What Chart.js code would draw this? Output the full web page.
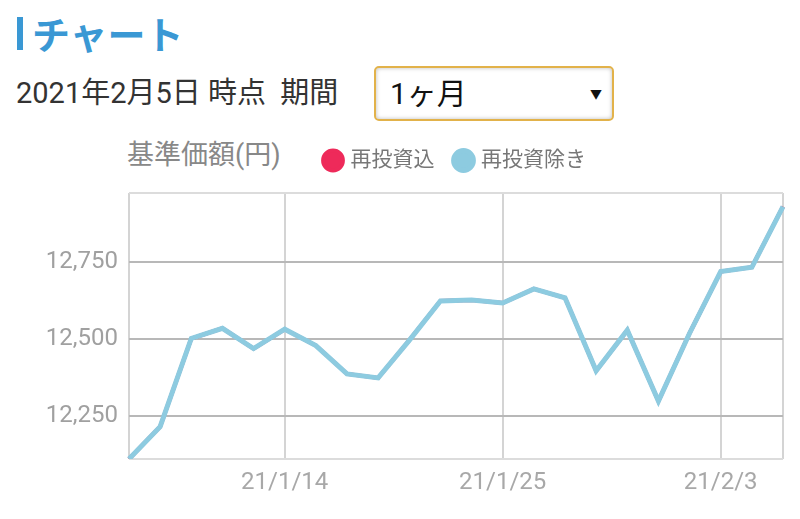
<!DOCTYPE html>
<html lang="ja">
<head>
<meta charset="utf-8">
<script src="https://cdn.jsdelivr.net/npm/chart.js@4"></script>
<style>
  html, body { margin: 0; padding: 0; background: #fff; }
  body { width: 800px; height: 519px; position: relative; overflow: hidden;
         font-family: Roboto, 'Noto Sans CJK JP', sans-serif; }
  .title { position: absolute; left: 17px; top: 11px; height: 44px; padding-left: 15px;
           font-size: 38px; font-weight: bold; color: #3a98d4; line-height: 44px;
           font-family: 'Noto Sans CJK JP', sans-serif; }
  .title::before { content: ''; position: absolute; left: 0; top: 6px; width: 6px; height: 33px; background: #3a98d4; }
  .asof { position: absolute; left: 16px; top: 73px; font-size: 29px; color: #333; line-height: 40px; }
  .select { position: absolute; left: 374px; top: 66px; width: 236px; height: 51px;
            border: 2px solid #e2b24a; border-radius: 5px; box-shadow: inset 0 0 4px #bbb; }
  .select span { position: absolute; left: 14px; top: 6px; font-size: 30px; color: #111; line-height: 40px; }
  .select i { position: absolute; right: 10px; top: 17px; font-style: normal; font-size: 12px; color: #111; }
  .unit { position: absolute; left: 127px; top: 136px; font-size: 27px; color: #888; line-height: 38px; }
  #wrap { position: absolute; left: 0; top: 128px; width: 800px; height: 391px; }
</style>
</head>
<body>
<div class="title">チャート</div>
<div class="asof">2021年2月5日 時点&nbsp;&nbsp;期間</div>
<div class="select"><span>1ヶ月</span><i>▼</i></div>
<div class="unit">基準価額(円)</div>
<div id="wrap"><canvas id="chart"></canvas></div>
<script>
// 基準日 (営業日)
const labels = ['21/1/6', '21/1/7', '21/1/8', '21/1/12', '21/1/13', '21/1/14', '21/1/15',
    '21/1/18', '21/1/19', '21/1/20', '21/1/21', '21/1/22', '21/1/25', '21/1/26', '21/1/27',
    '21/1/28', '21/1/29', '21/2/1', '21/2/2', '21/2/3', '21/2/4', '21/2/5'];

// 再投資込
const reinvested = [12112, 12217, 12503, 12536, 12470, 12533, 12480, 12388, 12375, 12497, 12625,
    12628, 12618, 12664, 12635, 12398, 12530, 12300, 12520, 12720, 12734, 12931];

// 再投資除き
const excluded = [12112, 12217, 12503, 12536, 12470, 12533, 12480, 12388, 12375, 12497, 12625,
    12628, 12618, 12664, 12635, 12398, 12530, 12300, 12520, 12720, 12734, 12931];

const shownLabels = ['21/1/14', '21/1/25', '21/2/3'];
const yMin = 12112;
const yMax = 12975;
const yStep = 250;

const fontFamily = "Roboto, 'Noto Sans CJK JP', sans-serif";

/* 凡例の下に余白を足す */
const legendGap = {
    id: 'legendGap',
    beforeUpdate(chart) {
        const lg = chart.legend;
        if (!lg || lg._gapPatched) return;
        const fit = lg.fit;
        lg.fit = function () {
            fit.call(this);
            this.height += 12;
        };
        lg._gapPatched = true;
    }
};

new Chart(document.getElementById('chart'), {
    type: 'line',
    data: {
        labels,
        datasets: [
            { label: '再投資込', data: reinvested, borderColor: '#ee2a5a', backgroundColor: '#ee2a5a',
              borderWidth: 4, pointRadius: 0, tension: 0, order: 2 },
            { label: '再投資除き', data: excluded, borderColor: '#8dcbe0', backgroundColor: '#8dcbe0',
              borderWidth: 5, pointRadius: 0, tension: 0, order: 1 }
        ]
    },
    plugins: [legendGap],
    options: {
        responsive: true,
        maintainAspectRatio: false,
        animation: false,
        layout: { padding: { left: 0, right: 17, top: 0, bottom: 0 } },
        plugins: {
            tooltip: { enabled: false },
            legend: {
                position: 'top',
                fullSize: false,
                labels: {
                    usePointStyle: true,
                    pointStyle: 'circle',
                    boxWidth: 14,
                    boxHeight: 14,
                    padding: 22,
                    color: '#777',
                    font: { family: fontFamily, size: 21 },
                    sort: (a, b) => a.datasetIndex - b.datasetIndex
                }
            }
        },
        scales: {
            x: {
                offset: false,
                grid: {
                    drawTicks: false,
                    color: '#d4d4d4',
                    lineWidth: 2
                },
                border: { display: false },
                ticks: {
                    autoSkip: false,
                    maxRotation: 0,
                    padding: 10,
                    color: '#a8a8a8',
                    font: { family: fontFamily, size: 24 },
                    callback: function (v, i) {
                        const l = this.getLabelForValue(v);
                        if (shownLabels.includes(l)) return l;
                        if (i === 0 || i === labels.length - 1) return '';
                        return null;
                    }
                },
                afterFit: s => { s.height = 60; }
            },
            y: {
                min: yMin,
                max: yMax,
                grid: {
                    drawTicks: false,
                    lineWidth: 2,
                    color: c => (c.tick && c.tick.value % yStep === 0) ? '#b8b8b8' : '#dcdcdc'
                },
                border: { display: false },
                ticks: {
                    stepSize: yStep,
                    padding: 11,
                    color: '#a0a0a0',
                    font: { family: fontFamily, size: 24 },
                    callback: v => v % yStep === 0 ? v.toLocaleString('en-US') : ''
                },
                afterFit: s => { s.width = 129; }
            }
        }
    }
});
</script>
</body>
</html>
